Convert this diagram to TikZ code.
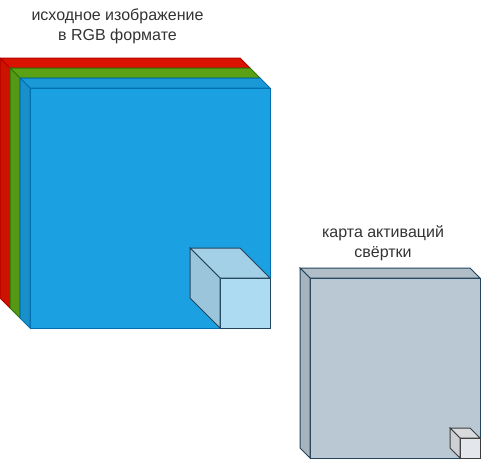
\documentclass[tikz,border=0pt]{standalone}
\usepackage{fontspec}
\setmainfont{Liberation Sans}
\usepackage{xcolor}
\usepackage{tikz}
\usetikzlibrary{positioning, calc}
\definecolor{chanred}{HTML}{E51400}
\definecolor{chanredline}{HTML}{B20000}
\definecolor{changreen}{HTML}{60A917}
\definecolor{changreenline}{HTML}{2D7600}
\definecolor{chanblue}{HTML}{1BA1E2}
\definecolor{chanblueline}{HTML}{006EAF}
\definecolor{kernelfill}{HTML}{ACDBF2}
\definecolor{mapfill}{HTML}{BAC8D3}
\definecolor{mapline}{HTML}{23445D}
\definecolor{cellfill}{HTML}{E3E6EA}
\definecolor{cellline}{HTML}{3C3C3C}
\definecolor{labelgray}{HTML}{333333}

% top and left faces behind a front face node: #1 node, #2 depth, #3 fill, #4 line
\newcommand{\cubesides}[4]{%
  \filldraw[fill=#3!95!black, draw=#4] (#1.north west) -- ++(-#2,-#2) -- ($(#1.north east)+(-#2,-#2)$) -- (#1.north east) -- cycle;
  \filldraw[fill=#3!90!black, draw=#4] (#1.north west) -- ++(-#2,-#2) -- ($(#1.south west)+(-#2,-#2)$) -- (#1.south west) -- cycle;
}

\begin{document}
\begin{tikzpicture}[
  x=1pt, y=-1pt, line width=1pt, line join=miter,
  face/.style={draw, rectangle, inner sep=0pt, outer sep=0pt},
  lbl/.style={font=\fontsize{16}{20}\selectfont, text=labelgray, align=center},
]
  \useasboundingbox (0,0) rectangle (481,459);

  % Labels
  \node[lbl] (srclabel) at (117.5,26) {исходное изображение\\в RGB формате};
  \node[lbl] (maplabel) at (383,243) {карта активаций\\свёртки};

  % RGB channels
  \node[face, fill=chanred, draw=chanredline, minimum width=240pt, minimum height=240pt] (red) at (130,188) {};
  \cubesides{red}{10}{chanred}{chanredline}
  \node[face, fill=changreen, draw=changreenline, minimum width=240pt, minimum height=240pt] (green) at (140,198) {};
  \cubesides{green}{10}{changreen}{changreenline}
  \node[face, fill=chanblue, draw=chanblueline, minimum width=240pt, minimum height=240pt] (blue) at (150,208) {};
  \cubesides{blue}{10}{chanblue}{chanblueline}

  % Kernel window
  \node[face, fill=kernelfill, draw=mapline, minimum width=50pt, minimum height=50pt] (kernel) at (245,303) {};
  \cubesides{kernel}{30}{kernelfill}{mapline}

  % Activation map
  \node[face, fill=mapfill, draw=mapline, minimum width=170pt, minimum height=180pt] (map) at (395,368) {};
  \cubesides{map}{10}{mapfill}{mapline}
  \node[face, fill=cellfill, draw=cellline, minimum width=20pt, minimum height=20pt] (cell) at (470,448) {};
  \cubesides{cell}{10}{cellfill}{cellline}

\end{tikzpicture}
\end{document}
